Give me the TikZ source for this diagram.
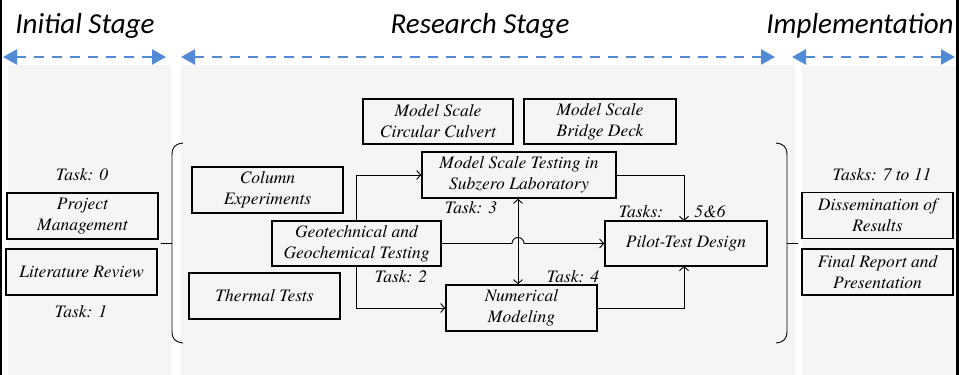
\documentclass[tikz,border=0pt]{standalone}
\usepackage{fontspec}
\newfontfamily\tnrfont{texgyretermes}[Extension=.otf, UprightFont=*-regular, ItalicFont=*-italic, BoldFont=*-bold, BoldItalicFont=*-bolditalic]
\newfontfamily\hdrfont{Carlito}
\usetikzlibrary{arrows.meta}
\definecolor{panelgray}{RGB}{245,245,245}
\definecolor{stageblue}{RGB}{82,138,214}
\tikzset{
  taskbox/.style={draw=black, line width=1.6pt, fill=panelgray, inner sep=0pt, font=\tnrfont\itshape\fontsize{17.5}{21}\selectfont, align=center},
  lbl/.style={font=\tnrfont\itshape\fontsize{17.5}{21}\selectfont, inner sep=0pt},
  hdr/.style={font=\hdrfont\itshape\fontsize{29}{34}\selectfont, inner sep=0pt, anchor=base},
  stagearrow/.style={draw=stageblue, line width=2.6pt, dash pattern=on 10pt off 8pt, {Triangle[length=14pt,width=15pt]}-{Triangle[length=14pt,width=15pt]}},
  flow/.style={draw=black, line width=0.9pt, -{Straight Barb[length=4pt,width=9pt]}},
  link/.style={draw=black, line width=0.9pt},
  brace/.style={draw=black, line width=0.9pt}
}
\begin{document}
\begin{tikzpicture}[x=1pt,y=-1pt]
\useasboundingbox (0,0) rectangle (959,375);
% panels
\fill[panelgray] (8,65) rectangle (171,375);
\fill[panelgray] (181,65) rectangle (795,375);
\fill[panelgray] (802,66) rectangle (956,375);
% outer black lines
\draw[line width=2pt] (1,0) -- (1,375);
\draw[line width=2.5pt] (957.5,0) -- (957.5,375);
% headers
\node[hdr] (h1) at (85,33) {Initial Stage};
\node[hdr] (h2) at (480,33) {Research Stage};
\node[hdr] (h3) at (860,33) {Implementation};
% stage arrows
\coordinate (a1l) at (3,57); \coordinate (a1r) at (166,57);
\coordinate (a2l) at (181,57); \coordinate (a2r) at (775,57);
\coordinate (a3l) at (792,57); \coordinate (a3r) at (955,57);
\draw[stagearrow] (a1l) -- (a1r);
\draw[stagearrow] (a2l) -- (a2r);
\draw[stagearrow] (a3l) -- (a3r);
% left panel
\node[lbl] (t0) at (82,175) {Task: 0};
\node[taskbox, minimum width=151pt, minimum height=46pt] (pm) at (82.5,216) {Project\\Management};
\node[taskbox, minimum width=151pt, minimum height=46pt] (lr) at (81.5,272) {Literature Review};
\node[lbl] (t1) at (81,312) {Task: 1};
% braces
\draw[brace] (183,143) .. controls (175,144) and (172,147) .. (172,155) -- (172,331) .. controls (172,339) and (175,342) .. (183,343);
\coordinate (lbt) at (172,243); \coordinate (lbe) at (161,243);
\draw[brace] (lbt) -- (lbe);
\draw[brace] (776,143) .. controls (784,144) and (787,147) .. (787,155) -- (787,331) .. controls (787,339) and (784,342) .. (776,343);
\coordinate (rbt) at (787,243); \coordinate (rbe) at (798,243);
\draw[brace] (rbt) -- (rbe);
% research boxes
\node[taskbox, minimum width=150pt, minimum height=45pt] (mcc) at (438,121.5) {Model Scale\\Circular Culvert};
\node[taskbox, minimum width=152pt, minimum height=45pt] (mbd) at (600,121.5) {Model Scale\\Bridge Deck};
\node[taskbox, minimum width=151pt, minimum height=46pt] (col) at (267.5,190) {Column\\Experiments};
\node[taskbox, minimum width=194pt, minimum height=46pt] (mst) at (519,175) {Model Scale Testing in\\Subzero Laboratory};
\node[taskbox, minimum width=169pt, minimum height=45pt] (geo) at (356.5,243.5) {Geotechnical and\\Geochemical Testing};
\node[taskbox, minimum width=151pt, minimum height=46pt] (thm) at (264.5,296) {Thermal Tests};
\node[taskbox, minimum width=162pt, minimum height=45pt] (pil) at (686,243.5) {Pilot-Test Design};
\node[taskbox, minimum width=151pt, minimum height=46pt] (num) at (521.5,308) {Numerical\\Modeling};
\node[lbl] (t3) at (471,208) {Task: 3};
\node[lbl] (t2) at (401,277) {Task: 2};
\node[lbl] (t4) at (573,277) {Task: 4};
\node[lbl] (t56a) at (641,212) {Tasks:};
\node[lbl] (t56b) at (710,212) {5\&6};
% right panel
\node[lbl] (t711) at (882,175) {Tasks: 7 to 11};
\node[taskbox, minimum width=151pt, minimum height=46pt] (dis) at (877.5,215.5) {Dissemination of\\Results};
\node[taskbox, minimum width=151pt, minimum height=46pt] (fin) at (877.5,272) {Final Report and\\Presentation};
% flows
\draw[flow] (geo.north) |- (mst.west);
\draw[flow] (geo.south) |- (num.west);
\draw[link] (geo.east) -- (512,243.5) arc[start angle=180, end angle=0, radius=6pt] -- (pil.west);
\draw[flow] (pil.west) ++(-20,0) -- (pil.west);
\draw[flow, {Straight Barb[length=4pt,width=9pt]}-{Straight Barb[length=4pt,width=9pt]}] (mst.south -| 518,0) -- (num.north -| 518,0);
\draw[flow] (mst.east) -| (684,221);
\draw[flow] (num.east) -| (684,266);
\end{tikzpicture}
\end{document}
